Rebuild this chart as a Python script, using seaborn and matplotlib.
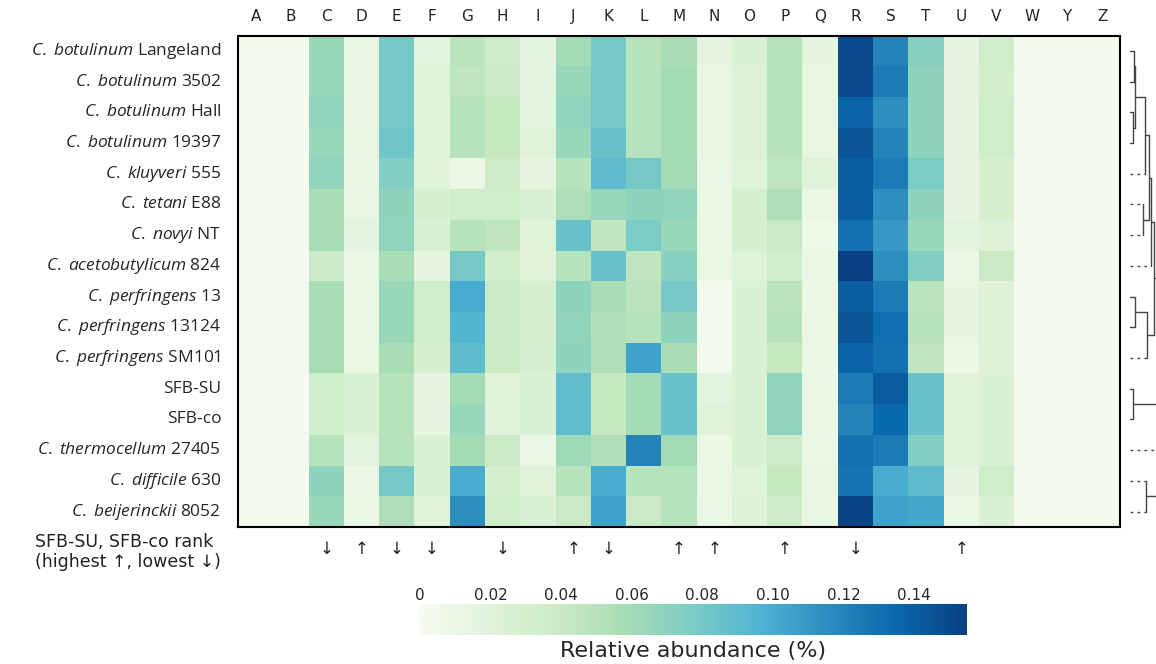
import numpy as np
import pandas as pd
import matplotlib
matplotlib.use("Agg")
import matplotlib.pyplot as plt
import seaborn as sns

# style
sns.set_style("white")
plt.rcParams["font.family"] = ["DejaVu Sans"]
plt.rcParams["mathtext.fontset"] = "custom"
plt.rcParams["mathtext.rm"] = "Open Sans"
plt.rcParams["mathtext.it"] = "Open Sans:italic"

# data
letters = ["A", "B", "C", "D", "E", "F", "G", "H", "I", "J", "K", "L", "M",
           "N", "O", "P", "Q", "R", "S", "T", "U", "V", "W", "Y", "Z"]

genus = ["C. botulinum", "C. botulinum", "C. botulinum", "C. botulinum",
         "C. kluyveri", "C. tetani", "C. novyi", "C. acetobutylicum",
         "C. perfringens", "C. perfringens", "C. perfringens", "", "",
         "C. thermocellum", "C. difficile", "C. beijerinckii"]
strain = ["Langeland", "3502", "Hall", "19397", "555", "E88", "NT", "824",
          "13", "13124", "SM101", "SFB-SU", "SFB-co", "27405", "630", "8052"]

abundance = [
    [.003, .003, .065, .014, .080, .018, .048, .038, .018, .060, .080, .050, .058, .015, .025, .050, .015, .150, .120, .072, .015, .035, .003, .003, .003],
    [.003, .003, .065, .014, .080, .020, .045, .040, .018, .065, .080, .050, .060, .014, .022, .050, .014, .150, .125, .070, .015, .032, .003, .003, .003],
    [.003, .003, .068, .014, .080, .020, .050, .042, .018, .068, .080, .050, .060, .014, .022, .050, .014, .138, .115, .070, .015, .035, .003, .003, .003],
    [.003, .003, .065, .014, .082, .020, .050, .042, .020, .065, .085, .052, .060, .014, .022, .050, .014, .145, .120, .070, .015, .035, .003, .003, .003],
    [.003, .003, .068, .014, .075, .020, .012, .038, .015, .050, .090, .080, .060, .010, .020, .047, .020, .140, .125, .078, .015, .030, .003, .003, .003],
    [.003, .003, .058, .014, .070, .030, .035, .035, .025, .055, .065, .070, .068, .012, .030, .055, .010, .140, .115, .070, .015, .030, .003, .003, .003],
    [.003, .003, .058, .018, .068, .025, .050, .045, .020, .085, .045, .078, .065, .012, .030, .040, .008, .130, .110, .065, .017, .022, .003, .003, .003],
    [.003, .003, .040, .010, .058, .015, .080, .035, .020, .050, .085, .045, .072, .012, .020, .035, .010, .155, .115, .075, .012, .040, .003, .003, .003],
    [.003, .003, .058, .012, .065, .035, .100, .040, .030, .070, .058, .048, .080, .005, .025, .048, .012, .140, .125, .048, .015, .022, .003, .003, .003],
    [.003, .003, .058, .012, .065, .035, .095, .040, .030, .068, .055, .050, .070, .005, .025, .050, .012, .145, .132, .050, .015, .022, .003, .003, .003],
    [.003, .003, .058, .012, .058, .030, .090, .040, .028, .070, .055, .105, .058, .004, .025, .042, .012, .138, .130, .045, .012, .022, .003, .003, .003],
    [.003, .003, .035, .025, .050, .015, .060, .020, .025, .088, .042, .060, .085, .018, .025, .068, .010, .125, .140, .085, .020, .025, .003, .003, .003],
    [.003, .003, .035, .025, .050, .015, .065, .020, .025, .088, .042, .060, .085, .020, .025, .068, .010, .120, .135, .085, .020, .025, .003, .003, .003],
    [.003, .003, .050, .018, .050, .025, .060, .040, .010, .062, .055, .120, .060, .012, .025, .038, .010, .130, .125, .075, .020, .025, .003, .003, .003],
    [.003, .003, .070, .010, .080, .025, .100, .030, .020, .050, .100, .050, .052, .010, .020, .042, .014, .128, .100, .090, .015, .035, .003, .003, .003],
    [.003, .003, .065, .012, .055, .020, .115, .035, .025, .040, .105, .040, .050, .010, .022, .038, .014, .152, .105, .102, .012, .025, .003, .003, .003],
]

# SFB rank arrows per column ("" = none)
rank = ["", "", "↓", "↑", "↓", "↓", "", "↓", "", "↑", "↓", "", "↑",
        "↑", "", "↑", "", "↓", "", "", "↑", "", "", "", ""]

# tree: (child, child, height); leaves 0..15, new nodes from 16
merges = [(0, 1, 4), (2, 3, 3), (16, 17, 5), (18, 4, 14.7), (5, 6, 13),
          (19, 20, 18.7), (21, 7, 21.3), (8, 9, 4.7), (23, 10, 17.3),
          (22, 24, 23.5), (11, 12, 3), (14, 15, 16.3), (25, 26, 30),
          (28, 13, 35), (29, 27, 40)]
dotted_leaves = [4, 5, 6, 7, 10, 13, 14, 15]

# labels (genus in italics)
row_labels = []
for g, s in zip(genus, strain):
    if g:
        row_labels.append(r"$\mathit{" + g.replace(" ", r"\;") + "}$ " + s)
    else:
        row_labels.append(s)

df = pd.DataFrame(abundance, index=row_labels, columns=letters)

# figure
fig = plt.figure(figsize=(11.56, 6.64), dpi=100)
ax = fig.add_axes([238 / 1156, 1 - 527 / 664, 882 / 1156, 491.5 / 664])
cax = fig.add_axes([420 / 1156, 1 - 635 / 664, 547 / 1156, 31 / 664])

sns.heatmap(df, cmap="GnBu", vmin=0, vmax=0.155, ax=ax, cbar_ax=cax,
            cbar_kws={"orientation": "horizontal"})

ax.tick_params(axis="both", direction="in", length=4, width=1, color="black",
               top=True, bottom=True, left=True, right=True,
               labeltop=True, labelbottom=False)
ax.tick_params(axis="x", labelsize=11, pad=8)
ax.tick_params(axis="y", labelsize=12.5, pad=12)
ax.set_xticklabels(letters, rotation=0)
ax.set_yticklabels(row_labels, rotation=0, fontfamily="Open Sans")
ax.set_xlabel("")
ax.set_ylabel("")
for sp in ax.spines.values():
    sp.set_visible(True)
    sp.set_linewidth(1.5)
    sp.set_color("black")

# rank arrows
for j, a in enumerate(rank):
    if a:
        ax.text(j + 0.5, 16.7, a, ha="center", va="center", fontsize=12,
                clip_on=False)
fig.text(35 / 1156, 1 - 552 / 664, "SFB-SU, SFB-co rank\n(highest ↑, lowest ↓)",
         ha="left", va="center", fontsize=12.5, linespacing=1.1,
         color="#222222")

# colorbar
cbar = ax.collections[0].colorbar
cbar.outline.set_visible(False)
cbar.set_ticks([0, 0.02, 0.04, 0.06, 0.08, 0.10, 0.12, 0.14])
cbar.set_ticklabels(["0", "0.02", "0.04", "0.06", "0.08", "0.10", "0.12", "0.14"])
cax.xaxis.set_ticks_position("top")
cax.tick_params(axis="x", direction="in", length=5, color="#333333",
                labelsize=11, pad=1)
cax.set_xlabel("Relative abundance (%)", fontsize=16, labelpad=4)
cax.xaxis.set_label_position("bottom")

# dendrogram
dax = fig.add_axes([1124 / 1156, 1 - 527 / 664, 32 / 1156, 491.5 / 664])
dax.set_xlim(-6, 26)
dax.set_ylim(len(strain), 0)
dax.axis("off")
pos = {i: (i + 0.5, 0.0) for i in range(len(strain))}
lc = "#444444"
for k, (a, b, h) in enumerate(merges):
    for c in (a, b):
        y, hc = pos[c]
        ls = (0, (2, 3)) if c in dotted_leaves else "-"
        dax.plot([hc, h], [y, y], color=lc, lw=1, ls=ls)
    dax.plot([h, h], [pos[a][0], pos[b][0]], color=lc, lw=1)
    pos[len(strain) + k] = ((pos[a][0] + pos[b][0]) / 2, h)

plt.savefig("out.png", dpi=100)
